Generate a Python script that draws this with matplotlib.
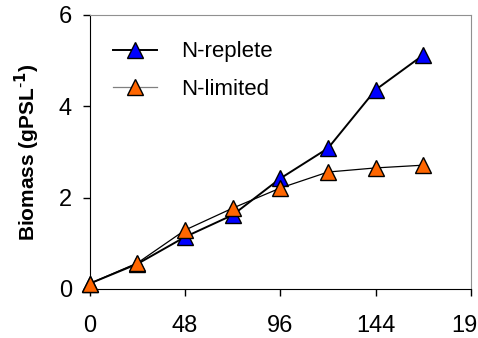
import numpy as np
from matplotlib import pyplot as plt

plt.rcParams['font.family'] = ['Liberation Sans', 'DejaVu Sans']

# Dados
tempo = [0, 24, 48, 72, 96, 120, 144, 168]
n_replete = [0.12, 0.55, 1.14, 1.62, 2.42, 3.08, 4.36, 5.12]
n_limited = [0.12, 0.57, 1.29, 1.77, 2.21, 2.56, 2.65, 2.71]
xticks = [0, 48, 96, 144, 192]
yticks = [0, 2, 4, 6]

fig = plt.figure(figsize=(4.78, 3.38), dpi=100)
ax = fig.add_axes([0.188, 0.145, 0.797, 0.811])

ax.plot(tempo, n_replete, color='k', lw=1.4, marker='^', ms=11,
        mfc='#0000ff', mec='k', mew=1, label='N-replete', clip_on=False, zorder=3)
ax.plot(tempo, n_limited, color='k', lw=0.9, marker='^', ms=11,
        mfc='#ff6600', mec='k', mew=1, label='N-limited', clip_on=False, zorder=4)

ax.set_xlim(0, 192)
ax.set_ylim(0, 6)
ax.set_xticks(xticks)
ax.set_yticks(yticks)
ax.tick_params(axis='both', direction='out', length=5, labelsize=17, width=1)
ax.tick_params(axis='x', pad=14)
ax.tick_params(axis='y', pad=8)
ax.spines['top'].set_color('#909090')
ax.spines['right'].set_color('#909090')

ax.set_ylabel('Biomass (gPSL$^{\\mathbf{\\text{-}1}}$)', fontsize=15, fontweight='bold', labelpad=12)

leg = ax.legend(loc='upper left', bbox_to_anchor=(0.06, 0.903), frameon=False,
                borderpad=0, borderaxespad=0,
                fontsize=16, handlelength=2.0, labelspacing=0.75, handletextpad=1.1)
leg.get_lines()[1].set_color('#808080')

fig.savefig('out.png', dpi=100)
